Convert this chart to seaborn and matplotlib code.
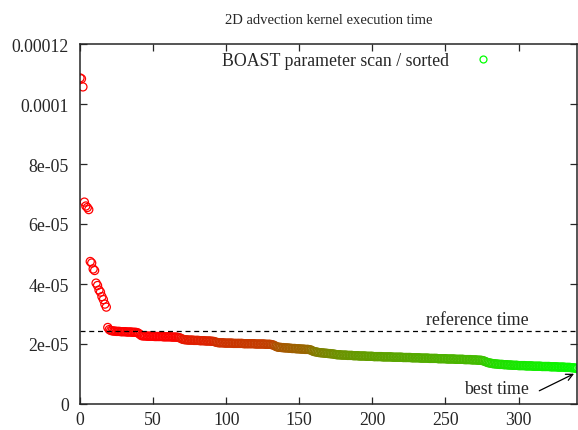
import numpy as np
import pandas as pd
import matplotlib
matplotlib.use("Agg")
import matplotlib.pyplot as plt
from matplotlib.colors import LinearSegmentedColormap, Normalize
from matplotlib.lines import Line2D
import seaborn as sns

# execution time of each parameter set, sorted by order of the scan (units of 1e-6 s)
time_us = [
    108.7, 108.4, 105.7, 67.3, 66.0, 65.5, 64.8, 47.5, 47.0, 45.0,
    44.5, 40.3, 39.5, 38.0, 37.3, 35.8, 34.8, 33.3, 32.3, 25.5,
    24.8, 24.5, 24.4, 24.3, 24.3, 24.2, 24.2, 24.2, 24.1, 24.1,
    24.1, 24.1, 24.0, 24.0, 24.0, 24.0, 23.9, 23.9, 23.9, 23.8,
    23.6, 23.2, 22.8, 22.7, 22.7, 22.7, 22.6, 22.6, 22.6, 22.6,
    22.6, 22.5, 22.5, 22.5, 22.5, 22.5, 22.5, 22.4, 22.4, 22.4,
    22.4, 22.4, 22.4, 22.3, 22.3, 22.3, 22.3, 22.2, 22.1, 21.9,
    21.6, 21.5, 21.4, 21.4, 21.3, 21.3, 21.3, 21.3, 21.2, 21.2,
    21.2, 21.2, 21.1, 21.1, 21.1, 21.1, 21.0, 21.0, 21.0, 21.0,
    20.9, 20.9, 20.8, 20.6, 20.5, 20.4, 20.4, 20.4, 20.4, 20.3,
    20.3, 20.3, 20.3, 20.3, 20.3, 20.2, 20.2, 20.2, 20.2, 20.2,
    20.2, 20.2, 20.1, 20.1, 20.1, 20.1, 20.1, 20.1, 20.1, 20.1,
    20.0, 20.0, 20.0, 20.0, 20.0, 20.0, 20.0, 19.9, 19.9, 19.9,
    19.9, 19.8, 19.7, 19.5, 19.2, 19.0, 18.9, 18.9, 18.8, 18.8,
    18.7, 18.7, 18.7, 18.6, 18.6, 18.5, 18.5, 18.5, 18.4, 18.4,
    18.4, 18.3, 18.3, 18.3, 18.2, 18.2, 18.2, 18.1, 18.0, 17.7,
    17.5, 17.4, 17.3, 17.2, 17.1, 17.1, 17.0, 17.0, 16.9, 16.9,
    16.8, 16.8, 16.7, 16.7, 16.6, 16.5, 16.4, 16.4, 16.4, 16.3,
    16.3, 16.3, 16.3, 16.2, 16.2, 16.2, 16.2, 16.1, 16.1, 16.1,
    16.1, 16.0, 16.0, 16.0, 16.0, 16.0, 15.9, 15.9, 15.9, 15.9,
    15.9, 15.8, 15.8, 15.8, 15.8, 15.8, 15.8, 15.7, 15.7, 15.7,
    15.7, 15.7, 15.7, 15.7, 15.6, 15.6, 15.6, 15.6, 15.6, 15.6,
    15.6, 15.5, 15.5, 15.5, 15.5, 15.5, 15.5, 15.4, 15.4, 15.4,
    15.4, 15.4, 15.4, 15.3, 15.3, 15.3, 15.3, 15.3, 15.3, 15.2,
    15.2, 15.2, 15.2, 15.2, 15.2, 15.1, 15.1, 15.1, 15.1, 15.1,
    15.1, 15.0, 15.0, 15.0, 15.0, 15.0, 15.0, 14.9, 14.9, 14.9,
    14.9, 14.9, 14.9, 14.8, 14.8, 14.8, 14.8, 14.8, 14.7, 14.7,
    14.7, 14.7, 14.6, 14.6, 14.6, 14.5, 14.4, 14.2, 14.0, 13.8,
    13.7, 13.6, 13.5, 13.4, 13.4, 13.3, 13.3, 13.2, 13.2, 13.2,
    13.1, 13.1, 13.1, 13.0, 13.0, 13.0, 12.9, 12.9, 12.9, 12.9,
    12.8, 12.8, 12.8, 12.8, 12.8, 12.7, 12.7, 12.7, 12.7, 12.7,
    12.6, 12.6, 12.6, 12.6, 12.6, 12.6, 12.5, 12.5, 12.5, 12.5,
    12.5, 12.5, 12.4, 12.4, 12.4, 12.4, 12.4, 12.3, 12.3, 12.3,
    12.3, 12.3, 12.2, 12.2, 12.2, 12.2, 12.1, 12.1, 12.0, 12.0,
    11.8,
]
reference_time = 2.45e-05
x_ticks = [0, 50, 100, 150, 200, 250, 300]
y_ticks = [0, 2e-05, 4e-05, 6e-05, 8e-05, 1e-04, 1.2e-04]
y_tick_labels = ["0", "2e-05", "4e-05", "6e-05", "8e-05", "0.0001", "0.00012"]

df = pd.DataFrame({"index": np.arange(len(time_us)),
                   "time": np.array(time_us) * 1e-6})

sns.set_style("ticks")
plt.rcParams["font.family"] = ["Liberation Serif", "DejaVu Serif"]
plt.rcParams["font.size"] = 12.8

fig = plt.figure(figsize=(5.78, 4.31), dpi=100)
ax = fig.add_axes([80 / 578, 26 / 431, 497 / 578, 360 / 431])

# gnuplot-like palette: green for the fastest, red for slow configurations
red_green = LinearSegmentedColormap.from_list("rg", [(0, 1, 0), (1, 0, 0)])
norm = Normalize(vmin=df["time"].min(), vmax=22.5e-6, clip=True)

sns.scatterplot(data=df, x="index", y="time", hue="time", palette=red_green,
                hue_norm=norm, legend=False, marker="o", s=34, ax=ax)
coll = ax.collections[0]
coll.set_edgecolors(coll.get_facecolors())
coll.set_facecolors("none")
coll.set_linewidths(0.9)

ax.axhline(reference_time, color="black", lw=0.9, ls=(0, (4, 3)), zorder=1)
ax.text(272, 28.2e-6, "reference time", ha="center", va="center")
ax.annotate("", xy=(339.7, 10.5e-6), xytext=(312.5, 4.0e-6),
            arrowprops=dict(arrowstyle="->", color="black", lw=0.9,
                            mutation_scale=12))
ax.text(307, 5.0e-6, "best time", ha="right", va="center")

ax.set_xlim(0, len(time_us) - 1)
ax.set_ylim(0, 1.2e-4)
ax.set_xticks(x_ticks)
ax.set_yticks(y_ticks, y_tick_labels)
ax.set_xlabel("")
ax.set_ylabel("")
ax.tick_params(direction="in", length=5, width=0.9, top=True, right=True)
ax.tick_params(axis="x", pad=5)
ax.tick_params(axis="y", pad=8)
for side in ax.spines.values():
    side.set_visible(True)
    side.set_linewidth(1.1)

ax.set_title("2D advection kernel execution time", fontsize=10.5, pad=15)

handle = Line2D([], [], marker="o", ls="none", mfc="none", mec=(0, 1, 0),
                ms=5, mew=0.9)
ax.legend([handle], ["BOAST parameter scan / sorted"], loc="center right",
          bbox_to_anchor=(0.829, 0.954), frameon=False, markerfirst=False,
          borderpad=0, borderaxespad=0, handlelength=1.0, handletextpad=1.4)

fig.savefig("out.png", dpi=100)
